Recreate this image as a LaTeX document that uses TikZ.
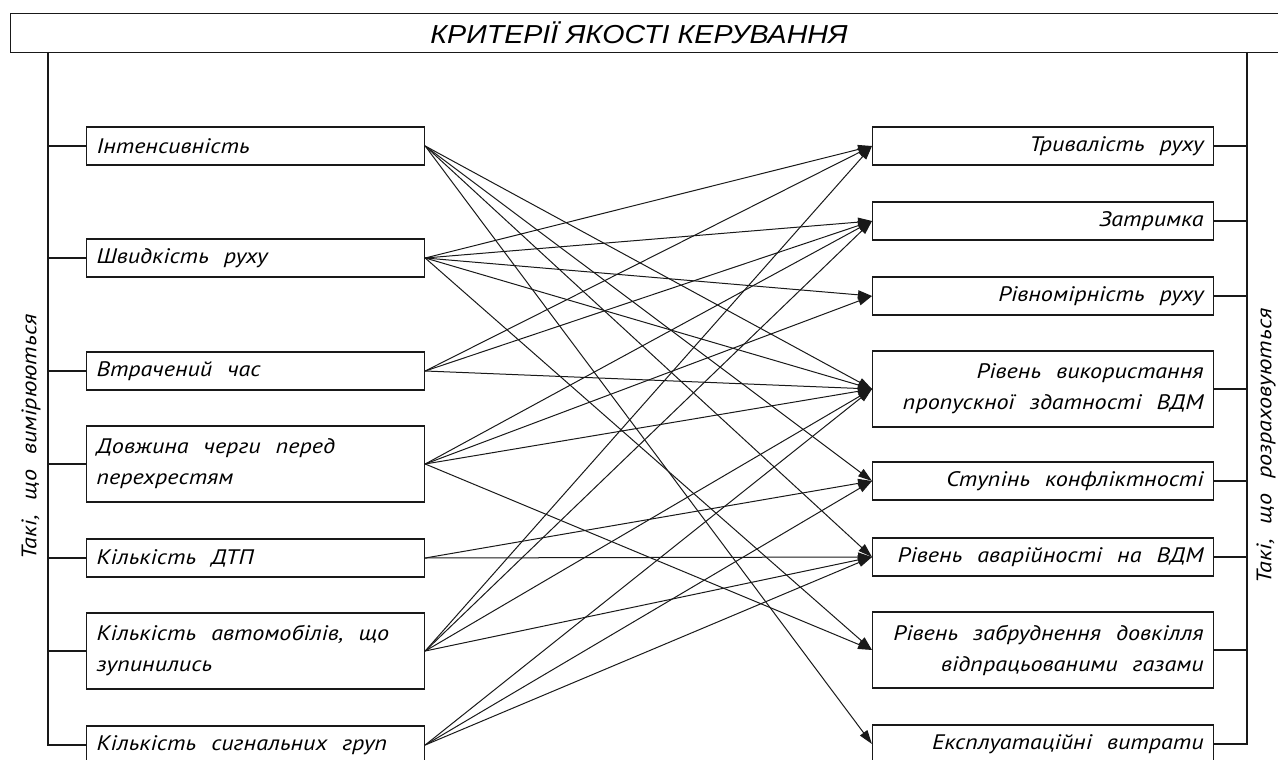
\documentclass[tikz,border=0pt]{standalone}
\usepackage{fontspec}
\setmainfont{Liberation Sans}
\newfontfamily\gost{PT Sans}[FakeStretch=1.15]
\newfontfamily\headfont{Liberation Sans}[FakeStretch=1.1]
\usetikzlibrary{arrows.meta}
\definecolor{ink}{RGB}{25,25,25}
% drafting-style wide, rigid gaps between words
\newcommand\draftspacing{\spaceskip=15pt\relax\xspaceskip=15pt\relax}

\tikzset{
  crit/.style={draw=ink, line width=1.2pt, minimum height=38pt, inner xsep=10pt, inner ysep=0pt,
    font=\gost\itshape\fontsize{21}{31}\selectfont, execute at begin node=\draftspacing, anchor=west},
  measured/.style={crit, text width=318pt, minimum width=338pt, align=left},
  computed/.style={crit, text width=321pt, minimum width=341pt, align=right},
  tall/.style={minimum height=76pt},
  link/.style={draw=ink, line width=1pt, -{Triangle[length=14pt,width=9pt]}},
  bus/.style={draw=ink, line width=1.2pt},
  sidelabel/.style={rotate=90, font=\gost\itshape\fontsize{21}{24}\selectfont, execute at begin node=\draftspacing},
}

\begin{document}
\begin{tikzpicture}[x=1pt, y=-1pt]
\useasboundingbox (0,0) rectangle (1278,760);
\clip (0,0) rectangle (1278,760);

% heading frame and title
\node[draw=ink, line width=1.2pt, minimum width=1300pt, minimum height=39pt, inner sep=0pt,
      anchor=north west] (frame) at (10,13) {};
\node[font=\headfont\itshape\fontsize{26}{28}\selectfont] (title) at (639,32.5) {КРИТЕРІЇ ЯКОСТІ КЕРУВАННЯ};

% criteria that are measured
\node[measured] (L1) at (86,146) {Інтенсивність};
\node[measured] (L2) at (86,258) {Швидкість руху};
\node[measured] (L3) at (86,371) {Втрачений час};
\node[measured, tall] (L4) at (86,464) {Довжина черги перед\\перехрестям};
\node[measured] (L5) at (86,558) {Кількість ДТП};
\node[measured, tall] (L6) at (86,651) {Кількість автомобілів, що\\зупинились};
\node[measured] (L7) at (86,745) {Кількість сигнальних груп};

% criteria that are calculated
\node[computed] (R1) at (872,146) {Тривалість руху};
\node[computed] (R2) at (872,221) {Затримка};
\node[computed] (R3) at (872,296) {Рівномірність руху};
\node[computed, tall] (R4) at (872,389) {Рівень використання\\пропускної здатності ВДМ};
\node[computed] (R5) at (872,481) {Ступінь конфліктності};
\node[computed] (R6) at (872,557) {Рівень аварійності на ВДМ};
\node[computed, tall] (R7) at (872,650) {Рівень забруднення довкілля\\відпрацьованими газами};
\node[computed] (R8) at (872,744) {Експлуатаційні витрати};

% side buses
\coordinate (lbus) at (48,52);
\coordinate (rbus) at (1247,52);
\draw[bus] (lbus) |- (L7.west);
\foreach \n in {L1,L2,L3,L4,L5,L6} \draw[bus] (\n.west) -- (\n.west -| lbus);
\draw[bus] (rbus) |- (R8.east);
\foreach \n in {R1,R2,R3,R4,R5,R6,R7} \draw[bus] (\n.east) -- (\n.east -| rbus);

\node[sidelabel] (mlabel) at (31,437) {Такі, що вимірюються};
\node[sidelabel] (clabel) at (1266,446) {Такі, що розраховуються};

% links between measured and calculated criteria
\foreach \s/\t in {L1/R4, L1/R5, L1/R6, L1/R8,
                   L2/R1, L2/R2, L2/R3, L2/R4, L2/R7,
                   L3/R1, L3/R2, L3/R4,
                   L4/R2, L4/R3, L4/R4, L4/R7,
                   L5/R5, L5/R6,
                   L6/R1, L6/R2, L6/R4, L6/R6,
                   L7/R4, L7/R5, L7/R6}
  \draw[link] (\s.east) -- (\t.west);
\end{tikzpicture}
\end{document}
